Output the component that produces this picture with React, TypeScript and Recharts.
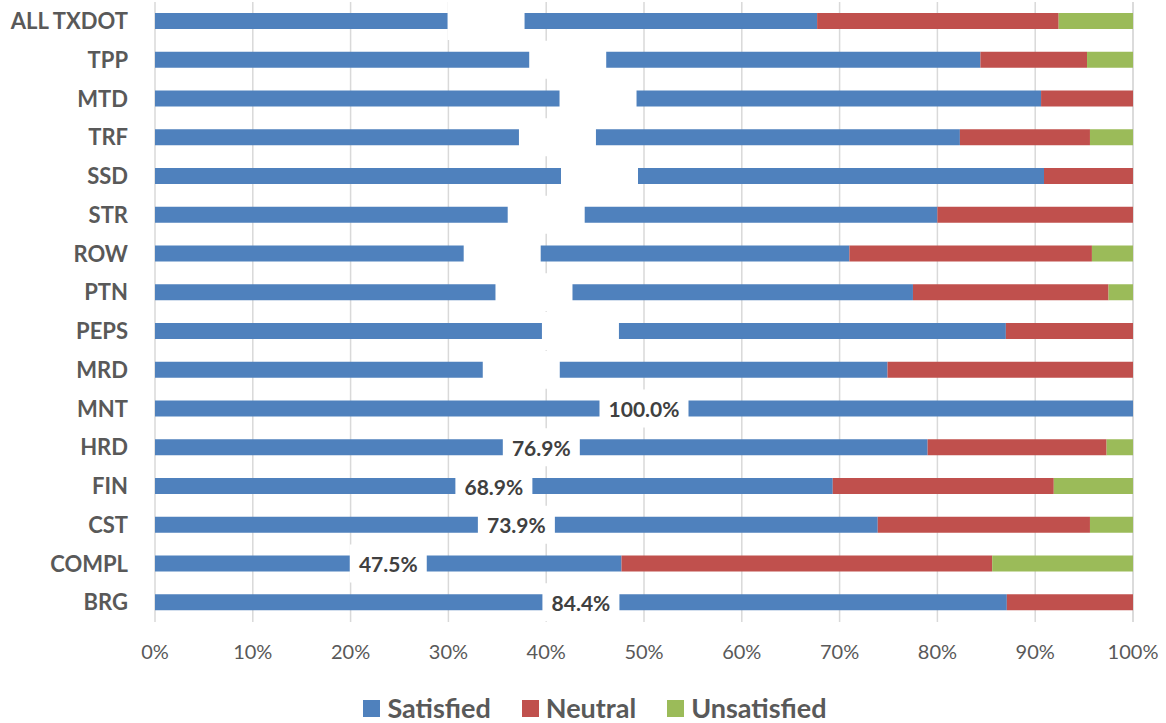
import React from "react";
import { BarChart, Bar, XAxis, YAxis, CartesianGrid, Legend, LabelList } from "recharts";

const categories = ["ALL TXDOT", "TPP", "MTD", "TRF", "SSD", "STR", "ROW", "PTN", "PEPS", "MRD", "MNT", "HRD", "FIN", "CST", "COMPL", "BRG"];
const satisfied = [67.7, 84.4, 90.6, 82.3, 90.9, 80.0, 71.0, 77.5, 87.0, 74.9, 100.0, 79.0, 69.3, 73.9, 47.7, 87.1];
const neutral = [24.7, 10.9, 9.4, 13.3, 9.1, 20.0, 24.8, 20.0, 13.0, 25.1, 0, 18.3, 22.6, 21.7, 37.9, 12.9];
const unsatisfied = [7.6, 4.7, 0, 4.4, 0, 0, 4.2, 2.5, 0, 0, 0, 2.7, 8.1, 4.4, 14.4, 0];
const labelTexts = ["", "", "", "", "", "", "", "", "", "", "100.0%", "76.9%", "68.9%", "73.9%", "47.5%", "84.4%"];
const xTicks = [0, 10, 20, 30, 40, 50, 60, 70, 80, 90, 100];

const COLORS = { Satisfied: "#4f81bd", Neutral: "#c0504d", Unsatisfied: "#9bbb59" };
const FONT = "Lato, 'Open Sans', sans-serif";

const data = categories.map((c, i) => ({
  name: c,
  Satisfied: satisfied[i],
  Neutral: neutral[i],
  Unsatisfied: unsatisfied[i],
  label: labelTexts[i],
}));

const renderLabel = (props: any) => {
  const { x, y, width, height, index } = props;
  const text = labelTexts[index] || "";
  const cx = Number(x) + Number(width) / 2;
  const cy = Number(y) + Number(height) / 2;
  const len = text.length > 0 ? text.length : 5;
  const w = 12 * len + 17;
  const h = 38;
  return (
    <g>
      <rect x={cx - w / 2} y={cy - h / 2} width={w} height={h} fill="#ffffff" />
      {text ? (
        <text x={cx} y={cy} textAnchor="middle" dominantBaseline="central" fill="#404040" fontFamily={FONT} fontWeight={700} fontSize={21}>
          {text}
        </text>
      ) : null}
    </g>
  );
};

const renderLegend = () => {
  const items = ["Satisfied", "Neutral", "Unsatisfied"] as const;
  return (
    <div style={{ display: "flex", justifyContent: "center", alignItems: "center", height: 30, paddingLeft: 57, boxSizing: "border-box", fontFamily: FONT }}>
      {items.map((k, i) => (
        <div key={k} style={{ display: "flex", alignItems: "center", marginLeft: i === 0 ? 0 : 31 }}>
          <div style={{ width: 17, height: 17, background: COLORS[k], marginRight: 7 }} />
          <span style={{ fontSize: 27, fontWeight: 700, color: "#595959", lineHeight: "30px" }}>{k}</span>
        </div>
      ))}
    </div>
  );
};

export default function App() {
  return (
    <div style={{ position: "absolute", left: 0, top: 0, width: 1166, height: 723, background: "#fff" }}>
      <BarChart
        width={1166}
        height={723}
        data={data}
        layout="vertical"
        barSize={16}
        margin={{ top: 2, right: 33, left: 0, bottom: 0 }}
      >
        <CartesianGrid horizontal={false} vertical={true} stroke="#d9d9d9" strokeWidth={1.5} />
        <XAxis
          type="number"
          domain={[0, 100]}
          ticks={xTicks}
          tickFormatter={(v: number) => `${v}%`}
          axisLine={false}
          tickLine={false}
          tickSize={0}
          tickMargin={23}
          height={71}
          interval={0}
          tick={{ fill: "#595959", fontSize: 20, fontFamily: FONT }}
        />
        <YAxis
          type="category"
          dataKey="name"
          width={155}
          axisLine={false}
          tickLine={false}
          tickSize={0}
          tickMargin={27}
          interval={0}
          tick={{ fill: "#595959", fontSize: 22, fontWeight: 700, fontFamily: FONT }}
        />
        <Legend verticalAlign="bottom" content={renderLegend} />
        <Bar dataKey="Satisfied" stackId="a" fill={COLORS.Satisfied} isAnimationActive={false}>
          <LabelList dataKey="label" content={renderLabel} />
        </Bar>
        <Bar dataKey="Neutral" stackId="a" fill={COLORS.Neutral} isAnimationActive={false} />
        <Bar dataKey="Unsatisfied" stackId="a" fill={COLORS.Unsatisfied} isAnimationActive={false} />
      </BarChart>
    </div>
  );
}
